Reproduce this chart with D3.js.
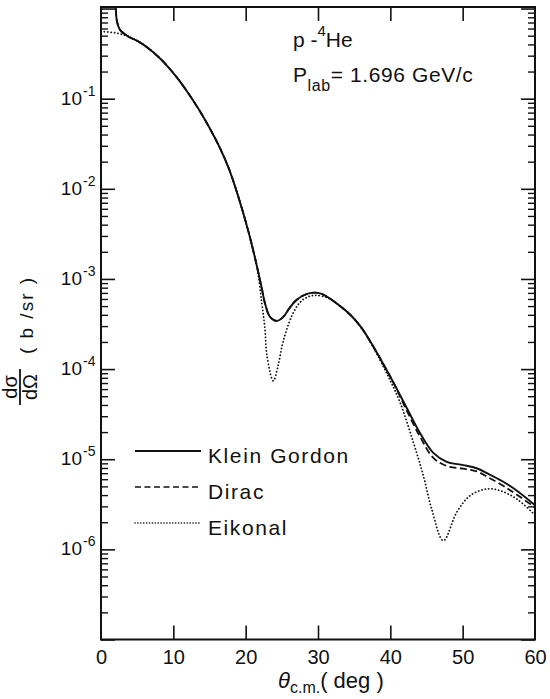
<!DOCTYPE html>
<html>
<head>
<meta charset="utf-8">
<style>
  body { margin: 0; background: #fff; }
  text { font-family: "Liberation Sans", Arial, sans-serif; fill: #111; }
</style>
</head>
<body>
<script src="https://cdn.jsdelivr.net/npm/d3@7"></script>
<script>
// angles in degrees (c.m.), cross sections in b/sr
var thetaKG = [1.95, 2.05, 2.17, 2.63, 3.77, 5.16, 6.54, 7.92, 9.30, 10.69, 12.07, 13.45, 14.84, 16.22,
  17.60, 18.76, 20.37, 21.53, 22.22, 22.67, 23.37, 24.29, 25.2, 26.0, 26.8, 27.7, 28.6, 29.5, 30.5, 31.5,
  33.04, 34.5, 36.0, 37.42, 39.0, 40.37, 42.26, 44.10, 45.94, 47.80, 50.09, 51.94, 53.5, 55.5, 57.5, 60.0];
var sigmaKG = [1.3, 1.0, 0.75, 0.58, 0.490, 0.4315, 0.363, 0.292, 0.224, 0.164, 0.1148, 0.0776, 0.0501, 0.0309,
  0.01738, 0.00933, 0.00339, 0.00141, 7.94e-4, 5.37e-4, 3.8e-4, 3.42e-4, 3.80e-4, 4.68e-4, 5.62e-4, 6.38e-4, 6.87e-4, 7.05e-4, 6.84e-4, 6.17e-4,
  5.01e-4, 3.98e-4, 2.88e-4, 1.905e-4, 1.148e-4, 7.24e-5, 3.72e-5, 1.95e-5, 1.175e-5, 9.33e-6, 8.61e-6, 7.94e-6, 6.92e-6, 5.69e-6, 4.47e-6, 3.09e-6];

var thetaDirac = [1.95, 2.05, 2.17, 2.63, 3.77, 5.16, 6.54, 7.92, 9.30, 10.69, 12.07, 13.45, 14.84, 16.22,
  17.60, 18.76, 20.37, 21.53, 22.22, 22.67, 23.37, 24.29, 25.2, 26.0, 26.8, 27.7, 28.6, 29.5, 30.5, 31.5,
  33.04, 34.5, 36.0, 37.42, 39.0, 40.37, 42.26, 44.10, 45.94, 47.80, 50.05, 51.94, 53.5, 55.5, 57.5, 60.0];
var sigmaDirac = [1.3, 1.0, 0.75, 0.58, 0.490, 0.4315, 0.363, 0.292, 0.224, 0.164, 0.1148, 0.0776, 0.0501, 0.0309,
  0.01738, 0.00933, 0.00339, 0.00141, 7.94e-4, 5.37e-4, 3.8e-4, 3.42e-4, 3.80e-4, 4.68e-4, 5.62e-4, 6.38e-4, 6.87e-4, 7.05e-4, 6.84e-4, 6.17e-4,
  5.01e-4, 3.98e-4, 2.88e-4, 1.905e-4, 1.148e-4, 7.24e-5, 3.47e-5, 1.78e-5, 1.035e-5, 8.41e-6, 7.85e-6, 7.33e-6, 6.31e-6, 5.13e-6, 4.03e-6, 2.92e-6];

var thetaEik = [0, 1.94, 3.3, 3.77, 5.16, 6.54, 7.92, 9.30, 10.69, 12.07, 13.45, 14.84, 16.22,
  17.60, 18.76, 20.37, 21.53, 22.22, 22.67, 22.95, 23.82, 24.47, 25.16, 26.37, 27.51, 28.4, 29.5, 31.5,
  33.04, 34.5, 36.0, 37.42, 39.5, 41.34, 43.18, 44.56, 45.72, 47.33, 49.18, 51.02, 53.33, 55.17, 57.48, 60.0];
var sigmaEik = [0.556, 0.538, 0.505, 0.49, 0.4315, 0.363, 0.292, 0.224, 0.164, 0.1148, 0.0776, 0.0501, 0.0309,
  0.01738, 0.00933, 0.00339, 0.00141, 5.5e-4, 2.77e-4, 1.4e-4, 7.4e-5, 1.08e-4, 1.99e-4, 3.88e-4, 5.5e-4, 6.2e-4, 6.58e-4, 6.1e-4,
  5.01e-4, 3.98e-4, 2.88e-4, 1.88e-4, 9.0e-5, 4.27e-5, 1.54e-5, 6.6e-6, 2.8e-6, 1.25e-6, 2.58e-6, 3.94e-6, 4.68e-6, 4.48e-6, 3.62e-6, 2.4e-6];

var xTicks = [0, 10, 20, 30, 40, 50, 60];
var yExps = [-1, -2, -3, -4, -5, -6];
var legendNames = ["Klein Gordon", "Dirac", "Eikonal"];

var width = 550, height = 699;
var plotLeft = 101, plotRight = 535, plotTop = 7, plotBottom = 639.5;

var x = d3.scaleLinear().domain([0, 60]).range([plotLeft, plotRight]);
var y = d3.scaleLog().domain([1e-7, 1.04]).range([plotBottom, plotTop]);

var svg = d3.select('body').append('svg')
  .attr('width', width).attr('height', height);

svg.append('clipPath').attr('id', 'plot')
  .append('rect').attr('x', plotLeft).attr('y', plotTop)
  .attr('width', plotRight - plotLeft).attr('height', plotBottom - plotTop);

// y ticks: majors at decades, minors at 2..9
var majors = [], minors = [];
for (var e = -7; e < 1; e++) {
  majors.push(Math.pow(10, e));
  for (var m = 2; m <= 9; m++) {
    var v = m * Math.pow(10, e);
    if (v <= 1.04) minors.push(v);
  }
}

function styleAxis(g, w) {
  g.selectAll('.domain').remove();
  g.selectAll('.tick line').attr('stroke', '#111').attr('stroke-width', w);
}

svg.append('g').attr('transform', 'translate(' + plotLeft + ',0)')
  .call(d3.axisLeft(y).tickValues(majors).tickSize(-14).tickFormat(''))
  .call(styleAxis, 1.6);
svg.append('g').attr('transform', 'translate(' + plotLeft + ',0)')
  .call(d3.axisLeft(y).tickValues(minors).tickSize(-7).tickFormat(''))
  .call(styleAxis, 1.4);
svg.append('g').attr('transform', 'translate(' + plotRight + ',0)')
  .call(d3.axisRight(y).tickValues(majors).tickSize(-14).tickFormat(''))
  .call(styleAxis, 1.6);
svg.append('g').attr('transform', 'translate(' + plotRight + ',0)')
  .call(d3.axisRight(y).tickValues(minors).tickSize(-7).tickFormat(''))
  .call(styleAxis, 1.4);

// x ticks
var xb = svg.append('g').attr('transform', 'translate(0,' + plotBottom + ')')
  .call(d3.axisBottom(x).tickValues(xTicks).tickSize(-14).tickPadding(10));
styleAxis(xb, 1.6);
xb.selectAll('.tick text').attr('font-size', 20)
  .style('font-family', '"Liberation Sans", Arial, sans-serif').attr('fill', '#111');
xb.selectAll('.tick').filter(function (d) { return d === 0 || d === 60; }).select('line').remove();
svg.append('g').attr('transform', 'translate(0,' + plotTop + ')')
  .call(d3.axisTop(x).tickValues(xTicks.slice(1, -1)).tickSize(-14).tickFormat(''))
  .call(styleAxis, 1.6);

// frame
svg.append('rect').attr('x', plotLeft).attr('y', plotTop)
  .attr('width', plotRight - plotLeft).attr('height', plotBottom - plotTop)
  .attr('fill', 'none').attr('stroke', '#111').attr('stroke-width', 2);

// y tick labels 10^n
yExps.forEach(function (n) {
  svg.append('text').attr('x', 82).attr('y', y(Math.pow(10, n)) + 6)
    .attr('text-anchor', 'end').attr('font-size', 19).text('10');
  svg.append('text').attr('x', 83).attr('y', y(Math.pow(10, n)) - 3)
    .attr('font-size', 14).text(String(n));
});

// curves
var line = d3.line()
  .x(function (d) { return x(d[0]); })
  .y(function (d) { return y(d[1]); })
  .curve(d3.curveCatmullRom.alpha(0.5));

var plot = svg.append('g').attr('clip-path', 'url(#plot)');
var series = [
  { t: thetaEik, s: sigmaEik, dash: '0.1,3.3', w: 1.8, cap: 'round' },
  { t: thetaDirac, s: sigmaDirac, dash: '7,3.5', w: 1.8, cap: 'butt' },
  { t: thetaKG, s: sigmaKG, dash: null, w: 1.9, cap: 'butt' }
];
series.forEach(function (c) {
  plot.append('path')
    .datum(d3.zip(c.t, c.s))
    .attr('d', line)
    .attr('fill', 'none')
    .attr('stroke', '#111')
    .attr('stroke-width', c.w)
    .attr('stroke-linecap', c.cap)
    .attr('stroke-dasharray', c.dash);
});

// legend
var legStyles = [
  { dash: null, w: 1.8, cap: 'butt' },
  { dash: '6,3.5', w: 1.6, cap: 'butt' },
  { dash: '0.1,2.8', w: 1.6, cap: 'round' }
];
legendNames.forEach(function (name, i) {
  var ly = 451 + i * 36;
  svg.append('line').attr('x1', 135).attr('x2', 201).attr('y1', ly).attr('y2', ly)
    .attr('stroke', '#111').attr('stroke-width', legStyles[i].w)
    .attr('stroke-linecap', legStyles[i].cap)
    .attr('stroke-dasharray', legStyles[i].dash);
  svg.append('text').attr('x', 208).attr('y', ly + 12)
    .attr('font-size', 21).attr('letter-spacing', 1.6).text(name);
});

// annotation
var a1 = svg.append('text').attr('x', 293).attr('y', 47).attr('font-size', 21);
a1.append('tspan').text('p -');
a1.append('tspan').attr('dy', -11).attr('font-size', 15).text('4');
a1.append('tspan').attr('dy', 11).text('He');

var a2 = svg.append('text').attr('x', 293).attr('y', 82).attr('font-size', 21).attr('letter-spacing', 0.6);
a2.append('tspan').text('P');
a2.append('tspan').attr('dy', 9).attr('font-size', 16).text('lab');
a2.append('tspan').attr('dy', -9).text('= 1.696 GeV/c');

// x title
var xt = svg.append('text').attr('x', 278).attr('y', 688).attr('font-size', 22);
xt.append('tspan').attr('font-style', 'italic').text('θ');
xt.append('tspan').attr('dy', 5).attr('font-size', 16).text('c.m.');
xt.append('tspan').attr('dy', -5).text('( deg )');

// y title
svg.append('text').attr('transform', 'translate(17,387) rotate(-90)')
  .attr('text-anchor', 'middle').attr('font-size', 20).text('dσ');
svg.append('line').attr('x1', 20).attr('x2', 20).attr('y1', 369).attr('y2', 405)
  .attr('stroke', '#111').attr('stroke-width', 1.8);
svg.append('text').attr('transform', 'translate(37,387) rotate(-90)')
  .attr('text-anchor', 'middle').attr('font-size', 20).text('dΩ');
svg.append('text').attr('transform', 'translate(33,315) rotate(-90)')
  .attr('text-anchor', 'middle').attr('font-size', 19).attr('letter-spacing', 2).text('( b /sr )');
</script>
</body>
</html>
